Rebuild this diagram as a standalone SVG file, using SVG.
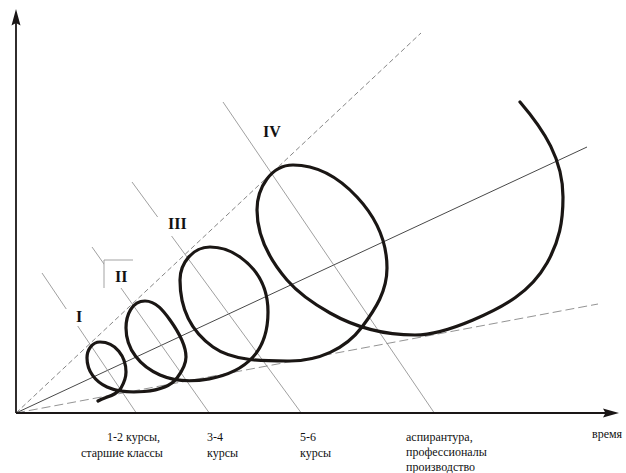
<svg xmlns="http://www.w3.org/2000/svg" width="626" height="473" viewBox="0 0 626 473">
<style>
.axis{stroke:#1a1616;stroke-width:1.8;fill:none}
.head{fill:#1a1616;stroke:none}
.ray{stroke:#333;stroke-width:0.9;fill:none}
.dash1{stroke:#666;stroke-width:0.8;fill:none;stroke-dasharray:5 3}
.dash2{stroke:#777;stroke-width:0.8;fill:none;stroke-dasharray:9 4}
.perp{stroke:#888;stroke-width:0.8;fill:none}
.curve{stroke:#1a1614;stroke-width:3.2;fill:none;stroke-linecap:round;stroke-linejoin:round}
.box{fill:#fff;stroke:none}
.edge{stroke:#999;stroke-width:0.9;fill:none}
.lbl{font-family:"Liberation Serif","Times New Roman",serif;font-weight:bold;font-size:16px;fill:#111}
.cap{font-family:"Liberation Serif","Times New Roman",serif;font-size:12px;fill:#111}
</style>
<g id="connectors">
<line class="ray" x1="16" y1="413" x2="587" y2="147"/>
<line class="dash1" x1="16" y1="413" x2="421" y2="33"/>
<line class="dash2" x1="16" y1="413" x2="598" y2="304"/>
<line class="perp" x1="42" y1="273" x2="137" y2="414"/>
<line class="perp" x1="92" y1="247" x2="210" y2="414"/>
<line class="perp" x1="132" y1="182" x2="302" y2="414"/>
<line class="perp" x1="223" y1="102" x2="435" y2="414"/>
</g>
<g id="axes">
<line class="axis" x1="16" y1="413" x2="16" y2="22"/>
<polygon class="head" points="16,9 20.5,25.5 16,23 11.5,25.5"/>
<line class="axis" x1="16" y1="413" x2="606" y2="413"/>
<polygon class="head" points="619,413 603,417.5 605.5,413 603,408.5"/>
</g>
<g id="label-I">
<rect class="box" x="62" y="309" width="28" height="17"/>
<text class="lbl" x="76" y="322">I</text>
</g>
<g id="label-II">
<rect class="box" x="104" y="260" width="29" height="28"/>
<path class="edge" d="M133,260 H104 V288"/>
<text class="lbl" x="115" y="282">II</text>
</g>
<g id="label-III">
<rect class="box" x="150" y="217" width="44" height="19"/>
<text class="lbl" x="168" y="229">III</text>
</g>
<g id="label-IV">
<text class="lbl" x="263" y="137">IV</text>
</g>
<g id="spiral">
<path class="curve" d="M98,401 C105.8,396.5 116.5,395.8 121,388 C124,382.8 126,378 126,372 C126,356.5 115.5,342 100,342 C92,342 87,350 87,358 C87,371 95.3,381.8 107,387 C125,395 165,394 177,378 C181.8,371.6 186,365 186,357 C186,344 177.5,330.5 170,320 C163.6,311.1 156,301 145,301 C132,301 126,315 126,328 C126,349.5 140.2,366.4 160,375 C187.6,387 232.9,379.2 253,357 C263.7,345.2 268,328 268,312 C268,288.6 259.2,270.6 240,257 C231,250.6 221,247 210,247 C193,247 180,263 180,280 C180,307.6 190.6,331 213,347 C233.3,361.5 265,361 290,361 C318,361 345.2,349.4 362,327 C375.8,308.6 387,291 387,268 C387,240 376,217.4 357,197 C339.3,178 319,165 293,165 C271,165 257,188 257,210 C257,236.7 269.6,259.7 287,280 C299.4,294.4 313.5,303.7 330,313 C356,327.7 385,335 415,335 C435,335 454.6,327.8 473,320 C503.9,306.9 530.5,292.2 547,263 C559.3,241.2 563,222 563,197 C563,159.5 544.4,130.5 520,102"/>
</g>
<g id="captions">
<text class="cap" x="107" y="441">1-2 курсы,</text>
<text class="cap" x="81" y="457">старшие классы</text>
<text class="cap" x="207" y="441">3-4</text>
<text class="cap" x="207" y="457">курсы</text>
<text class="cap" x="300" y="441">5-6</text>
<text class="cap" x="300" y="457">курсы</text>
<text class="cap" x="406" y="441">аспирантура,</text>
<text class="cap" x="406" y="456">профессионалы</text>
<text class="cap" x="406" y="471">производство</text>
<text class="cap" x="592" y="438">время</text>
</g>
</svg>
